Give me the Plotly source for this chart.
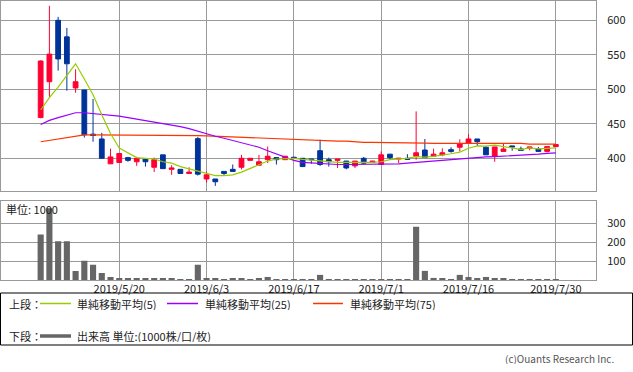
import plotly.graph_objects as go

W, H = 633, 372

dates = ["2019/5/7","2019/5/8","2019/5/9","2019/5/10","2019/5/13","2019/5/14","2019/5/15","2019/5/16","2019/5/17",
         "2019/5/20","2019/5/21","2019/5/22","2019/5/23","2019/5/24","2019/5/27","2019/5/28","2019/5/29","2019/5/30","2019/5/31",
         "2019/6/3","2019/6/4","2019/6/5","2019/6/6","2019/6/7","2019/6/10","2019/6/11","2019/6/12","2019/6/13","2019/6/14",
         "2019/6/17","2019/6/18","2019/6/19","2019/6/20","2019/6/21","2019/6/24","2019/6/25","2019/6/26","2019/6/27","2019/6/28",
         "2019/7/1","2019/7/2","2019/7/3","2019/7/4","2019/7/5","2019/7/8","2019/7/9","2019/7/10","2019/7/11","2019/7/12",
         "2019/7/16","2019/7/17","2019/7/18","2019/7/19","2019/7/22","2019/7/23","2019/7/24","2019/7/25","2019/7/26","2019/7/29",
         "2019/7/30"]

open_ = [459, 511, 600, 576, 502, 499, 435, 428, 392, 394,
         401, 395, 399, 387, 405, 384, 384, 378, 428.5, 370,
         370, 381, 384, 387, 397, 390, 398, 401, 398, 401.5,
         400, 399, 411, 398, 397, 396, 389, 400, 394, 391,
         406, 399, 400, 403, 412, 403, 405, 412.5, 416, 422,
         428, 416, 403, 410, 418, 413.5, 414.5, 413.5, 410, 417]
high = [542, 621, 605, 589, 529, 499, 486, 437, 414, 407,
        402, 402, 399, 401, 405, 390, 384, 387, 431, 381,
        370, 381, 391, 405, 400.5, 405, 417, 401, 403, 402,
        400, 399, 427, 401, 399, 396, 396, 402, 396, 410,
        406, 400, 406, 468, 428, 414, 414.5, 416, 427.5, 435,
        428, 418, 416.5, 421, 418, 417, 416.5, 416.5, 417, 420]
low = [458, 489, 527, 498, 495, 430, 424, 400, 392, 394,
       395, 389, 388, 380, 385, 376, 378, 378, 375, 365,
       360, 375, 381, 384, 397, 390, 393, 391, 398, 400,
       388, 392, 389, 388, 386, 384, 386, 391, 394, 391,
       398, 393, 398.5, 398, 401, 402, 403, 408, 410, 422,
       418, 405, 395, 410, 411, 411.5, 411.5, 410, 408.5, 417]
close = [541, 551, 544, 537, 511, 434, 433, 400, 402, 407,
         397, 400, 395, 398, 385, 386, 378, 380, 377, 376,
         366, 378, 381, 400, 400, 395, 403, 398, 403, 400.5,
         388, 398, 391, 395, 399, 386, 396, 393, 396, 405,
         401, 400, 398.5, 408, 401, 406, 408, 410, 421, 428,
         424, 405, 416.5, 413.5, 416.5, 411.5, 416.5, 410, 417, 420]

ma5 = [470, 488, 503, 520, 537, 515, 492, 463, 436, 415,
       408, 401, 400, 399, 395, 393, 388, 385, 381, 379,
       375, 375, 376, 380, 385, 391, 396, 399, 400, 400,
       398.5, 397.5, 396, 394.5, 394, 394, 393.5, 394, 394, 395,
       398, 399, 400, 402.5, 401.7, 402.7, 404.3, 406.6, 409, 414.6,
       418, 417.6, 419, 417.4, 415, 412.6, 415, 413.6, 414.3, 415]
ma25 = [449, 455, 459, 463, 466, 466, 465, 464, 463, 461,
        459, 457, 455, 453, 451, 449, 446, 443, 439, 436,
        432, 429, 426, 423, 420, 416, 411, 406, 401, 397,
        394, 393, 392, 391, 391, 391, 391, 391, 391, 392,
        392, 392, 393, 394, 395, 396, 397, 399, 400, 401,
        401.5, 402, 402.5, 403, 404, 405, 405, 406, 407, 408]
ma75 = [424, 426, 429, 431, 433, 434, 434, 434, 434, 434,
        434, 434, 434, 434, 434, 434, 434, 433.5, 433, 432.5,
        432, 431, 430.5, 429.5, 429, 429, 428.5, 427.5, 427, 427,
        426, 425.5, 425.5, 425, 425, 425, 423.5, 423, 423, 423,
        422.5, 422, 422, 422, 422, 421.7, 421.7, 421.7, 421.7, 421.7,
        421.7, 421.7, 421.7, 421.7, 421.7, 421.7, 420.5, 420.5, 420.5, 420.5]

volume = [239, 378, 204, 204, 48, 101, 80, 37, 16, 11,
          7, 11, 7, 11, 7, 7, 2, 2, 80, 7,
          7, 2, 7, 11, 2, 7, 16, 2, 1, 1,
          1, 1, 27, 1, 1, 1, 1, 1, 1, 1,
          1, 1, 1, 281, 48, 11, 7, 2, 27, 16,
          7, 16, 7, 7, 1, 1, 1, 1, 1, 1]

tick_dates = ["2019/5/20", "2019/6/3", "2019/6/17", "2019/7/1", "2019/7/16", "2019/7/30"]
price_ticks = [400, 450, 500, 550, 600]
vol_ticks = [100, 200, 300]

RED = "#ff0033"
BLUE = "#003399"
GRID = "#999999"
FONT = "Noto Sans CJK JP"

def px_x(x):
    return x / W

def px_y(y):
    return 1 - y / H

fig = go.Figure()

fig.add_trace(go.Candlestick(
    x=dates, open=open_, high=high, low=low, close=close,
    increasing=dict(line=dict(color=RED, width=1), fillcolor=RED),
    decreasing=dict(line=dict(color=BLUE, width=1), fillcolor=BLUE),
    whiskerwidth=0, xaxis="x", yaxis="y", showlegend=False, hoverinfo="skip"))

fig.add_trace(go.Scatter(x=dates, y=ma75, mode="lines", line=dict(color="#ff3300", width=1.2),
                         xaxis="x", yaxis="y", showlegend=False, hoverinfo="skip"))
fig.add_trace(go.Scatter(x=dates, y=ma25, mode="lines", line=dict(color="#9900ff", width=1.2),
                         xaxis="x", yaxis="y", showlegend=False, hoverinfo="skip"))
fig.add_trace(go.Scatter(x=dates, y=ma5, mode="lines", line=dict(color="#99cc00", width=1.2),
                         xaxis="x", yaxis="y", showlegend=False, hoverinfo="skip"))

fig.add_trace(go.Bar(x=dates, y=volume, marker=dict(color="#666666", line=dict(width=0)),
                     width=0.7, xaxis="x2", yaxis="y2", showlegend=False, hoverinfo="skip"))

xr = [-4.6, 63.6]
xdom = [px_x(0.5), px_x(596)]
common_x = dict(type="category", range=xr, tickvals=tick_dates, ticktext=tick_dates,
                showgrid=True, gridcolor=GRID, gridwidth=1, showline=True, linecolor=GRID,
                linewidth=1, mirror=True, ticks="", zeroline=False, domain=xdom)

fig.update_layout(
    width=W, height=H, margin=dict(l=0, r=0, t=0, b=0),
    paper_bgcolor="white", plot_bgcolor="white",
    font=dict(family=FONT, size=11, color="#222222"),
    boxgap=0.22,
    xaxis=dict(**common_x, anchor="y", showticklabels=False, rangeslider=dict(visible=False)),
    xaxis2=dict(**common_x, anchor="y2", matches="x", showticklabels=True,
                ticklabelstandoff=-1,
                tickfont=dict(size=11, family=FONT, color="#222222")),
    yaxis=dict(domain=[px_y(191), px_y(0.5)], range=[352.6, 628.7], side="right",
               tickvals=price_ticks, showgrid=True, gridcolor=GRID, showline=True,
               linecolor=GRID, mirror=True, ticks="", zeroline=False, anchor="x",
               ticklabelstandoff=8, tickfont=dict(size=11)),
    yaxis2=dict(domain=[px_y(280), px_y(201)], range=[0, 416], side="right",
                tickvals=vol_ticks, showgrid=True, gridcolor=GRID, showline=True,
                linecolor=GRID, mirror=True, ticks="", zeroline=False, anchor="x2",
                ticklabelstandoff=8, tickfont=dict(size=11)),
)

shapes = []
annotations = []

# legend box
shapes.append(dict(type="rect", xref="paper", yref="paper",
                   x0=px_x(0.5), x1=px_x(632.5), y0=px_y(345), y1=px_y(293),
                   line=dict(color="#000000", width=1), fillcolor="rgba(0,0,0,0)"))

def leg_line(x0, x1, y, color, width):
    shapes.append(dict(type="line", xref="paper", yref="paper",
                       x0=px_x(x0), x1=px_x(x1), y0=px_y(y), y1=px_y(y),
                       line=dict(color=color, width=width)))

def text(x, y, s, size=11, anchor="left", color="#222222"):
    annotations.append(dict(xref="paper", yref="paper", x=px_x(x), y=px_y(y), text=s,
                            showarrow=False, xanchor=anchor, yanchor="middle",
                            height=12, valign="middle",
                            font=dict(family=FONT, size=size, color=color)))

text(7, 303.5, "上段：")
leg_line(40, 71, 303.5, "#99cc00", 1.5)
text(75, 303.5, "単純移動平均(5)")
leg_line(167, 198, 303.5, "#9900ff", 1.5)
text(203, 303.5, "単純移動平均(25)")
leg_line(313, 343, 303.5, "#ff3300", 1.5)
text(348, 303.5, "単純移動平均(75)")

text(7, 336, "下段：")
leg_line(40, 71, 336, "#666666", 3.5)
text(75, 336, "出来高 単位:(1000株/口/枚)")

text(4, 209, "単位: 1000")
text(616, 358, "(c)Ouants Research Inc.", size=10, anchor="right", color="#555555")

fig.update_layout(shapes=shapes, annotations=annotations)

fig.write_html("out.html")
